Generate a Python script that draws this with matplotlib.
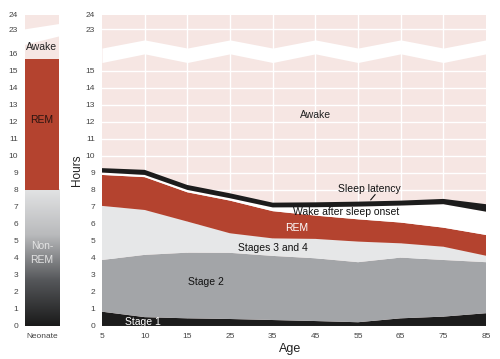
import numpy as np
import matplotlib.pyplot as plt
from matplotlib.colors import LinearSegmentedColormap

plt.rcParams['font.family'] = ['Liberation Sans', 'DejaVu Sans']

# data: hours per stage for each age group
ages = ['5', '10', '15', '25', '35', '45', '55', '65', '75', '85']
stage1 = [0.84, 0.52, 0.45, 0.41, 0.35, 0.29, 0.22, 0.45, 0.55, 0.75]
stage2 = [3.04, 3.66, 3.86, 3.89, 3.77, 3.69, 3.53, 3.57, 3.33, 3.00]
stage34 = [3.18, 2.64, 1.83, 1.15, 1.03, 1.14, 1.21, 0.84, 0.78, 0.38]
rem = [1.82, 1.93, 1.72, 1.92, 1.60, 1.37, 1.31, 1.22, 1.12, 1.22]
waso = [0.14, 0.13, 0.14, 0.14, 0.22, 0.49, 0.75, 1.00, 1.38, 1.37]
latency = [0.26, 0.30, 0.29, 0.29, 0.28, 0.29, 0.29, 0.29, 0.31, 0.44]

neo_nonrem = 8.0
neo_rem = 7.7

PINK = '#f6e6e3'
RED = '#b4432f'
LIGHT = '#e6e7e8'
GREY = '#a3a5a8'
BLACK = '#1c1c1c'
TICK = '#444444'

def disp(y):
    # broken axis: 23-24 squeezed on top of 0-16
    y = np.asarray(y, dtype=float)
    return np.where(y <= 16.5, y, 17.44 + (y - 23) * 0.86)

TOP = float(disp(24))

fig = plt.figure(figsize=(5.0, 3.59), dpi=100)
ax = fig.add_axes([0.204, 0.092, 0.768, 0.867])
axl = fig.add_axes([0.05, 0.092, 0.068, 0.867])

# ---- main chart ----
x = np.arange(len(ages))
ax.set_facecolor(PINK)
ax.stackplot(x, stage1, stage2, stage34, rem, waso, latency,
             colors=[BLACK, GREY, LIGHT, RED, 'white', BLACK], zorder=2)

yt_main = list(range(0, 16)) + [23, 24]
ax.set_yticks(disp(yt_main))
ax.set_yticklabels([str(v) for v in yt_main])
ax.set_xticks(x)
ax.set_xticklabels(ages)
ax.set_xlim(0, len(ages) - 1)
ax.set_ylim(0, TOP)
for v in yt_main[1:-1]:
    ax.axhline(disp(v), color='white', lw=1, zorder=1)
for xi in x[1:-1]:
    ax.axvline(xi, color='white', lw=1, zorder=1)

# zigzag break band
top_edge = np.where(x % 2 == 1, 16.82, 16.34)
bot_edge = np.where(x % 2 == 1, 16.0, 15.49)
ax.fill_between(x, bot_edge, top_edge, color='white', lw=0, zorder=1.5)

for s in ax.spines.values():
    s.set_visible(False)
ax.tick_params(length=0, labelsize=6, colors=TICK, pad=5)
ax.set_xlabel('Age', fontsize=9, labelpad=3, color='#222222')
ax.xaxis.set_label_coords(0.49, -0.055)
ax.set_ylabel('Hours', fontsize=8.5, color='#222222', labelpad=2)

ax.text(5, 12.4, 'Awake', fontsize=7.5, ha='center', va='center', color='#222222')
ax.text(6.26, 8.04, 'Sleep latency', fontsize=7.5, ha='center', va='center', color='#111111', zorder=3)
ax.plot([6.4, 6.3], [7.72, 7.42], color='#111111', lw=0.8, zorder=3)
ax.text(5.71, 6.72, 'Wake after sleep onset', fontsize=7.5, ha='center', va='center', color='#111111', zorder=3)
ax.text(4.56, 5.75, 'REM', fontsize=7.5, ha='center', va='center', color='white', zorder=3)
ax.text(4.0, 4.57, 'Stages 3 and 4', fontsize=7.5, ha='center', va='center', color='#111111', zorder=3)
ax.text(2.43, 2.6, 'Stage 2', fontsize=7.5, ha='center', va='center', color='#111111', zorder=3)
ax.text(0.95, 0.22, 'Stage 1', fontsize=7.5, ha='center', va='center', color='white', zorder=3)

# ---- neonate bar ----
axl.set_xlim(0, 1)
axl.set_ylim(0, TOP)
cmap = LinearSegmentedColormap.from_list('nrem', ['#1a1a1a', '#55575a', '#b9babc', '#e2e3e4'])
grad = np.linspace(0, 1, 256).reshape(-1, 1)
axl.imshow(grad, extent=[0, 1, 0, neo_nonrem], origin='lower', cmap=cmap, aspect='auto', zorder=2)
axl.bar(0.5, neo_rem, bottom=neo_nonrem, width=1, color=RED, zorder=2)
awake_bottom = neo_nonrem + neo_rem
axl.fill([0, 1, 1, 0], [awake_bottom, awake_bottom, 17.02, 16.53], color=PINK, lw=0, zorder=2)
axl.fill([0, 1, 1, 0], [17.44, 17.75, TOP, TOP], color=PINK, lw=0, zorder=2)

yt_left = list(range(0, 17)) + [23, 24]
axl.set_yticks(disp(yt_left))
axl.set_yticklabels([str(v) for v in yt_left])
axl.set_xticks([0.5])
axl.set_xticklabels(['Neonate'])
for s in axl.spines.values():
    s.set_visible(False)
axl.tick_params(length=0, labelsize=6, colors=TICK, pad=5)

axl.text(0.5, 16.4, 'Awake', fontsize=7.5, ha='center', va='center', color='#222222', zorder=3)
axl.text(0.5, 12.1, 'REM', fontsize=7.5, ha='center', va='center', color='#2a1410', zorder=3)
axl.text(0.5, 4.3, 'Non-\nREM', fontsize=7.5, ha='center', va='center', color='#e4e4e4',
         linespacing=1.5, zorder=3)

fig.savefig('out.png', dpi=100)
